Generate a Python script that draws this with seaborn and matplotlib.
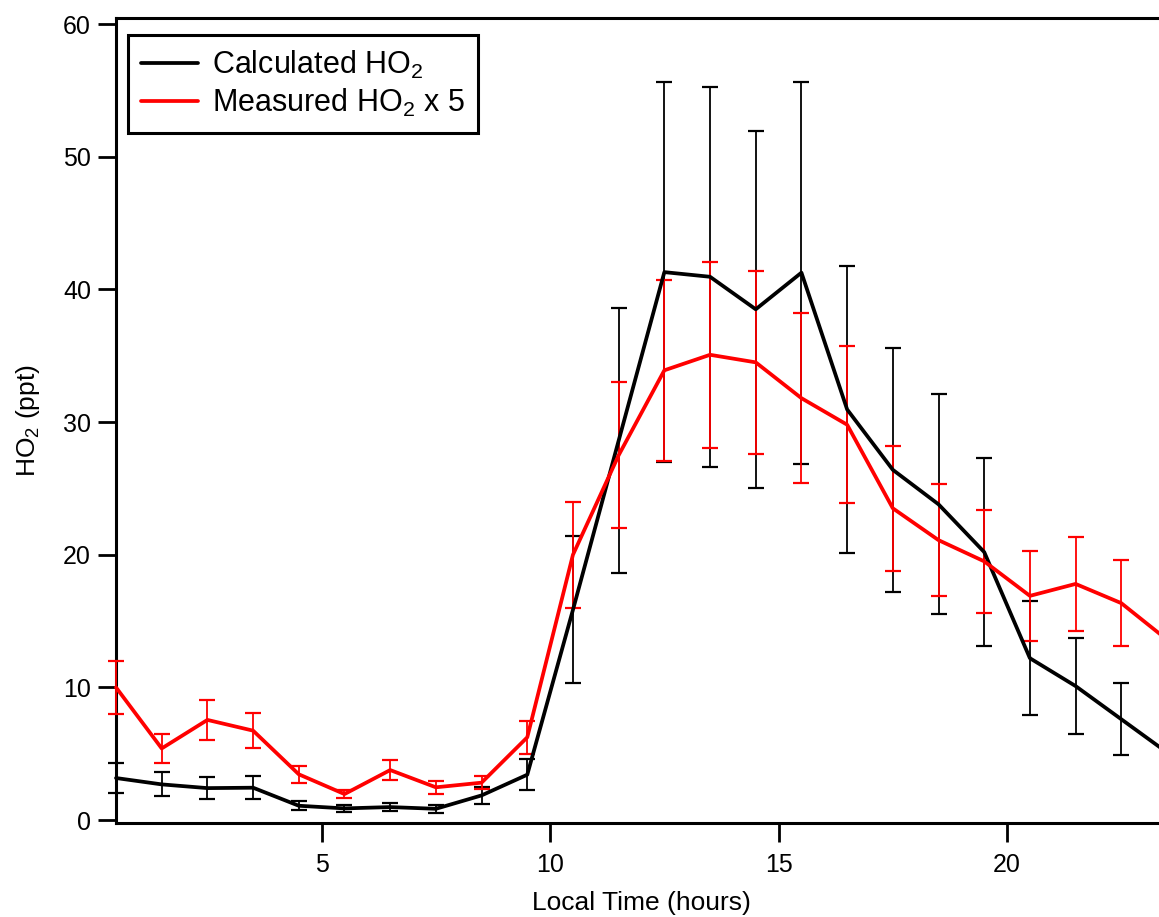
import matplotlib
matplotlib.use("Agg")
import matplotlib.pyplot as plt
import seaborn as sns
import pandas as pd

hours = [0.5, 1.5, 2.5, 3.5, 4.5, 5.5, 6.5, 7.5, 8.5, 9.5, 10.5, 11.5,
         12.5, 13.5, 14.5, 15.5, 16.5, 17.5, 18.5, 19.5, 20.5, 21.5, 22.5, 23.5]
calc_ho2 = [3.17, 2.69, 2.41, 2.44, 1.08, 0.88, 0.98, 0.85, 1.86, 3.42, 15.85, 28.6,
            41.3, 40.95, 38.5, 41.26, 30.95, 26.4, 23.8, 20.2, 12.2, 10.1, 7.6, 5.1]
calc_err = [1.1, 0.9, 0.84, 0.85, 0.34, 0.29, 0.31, 0.29, 0.63, 1.18, 5.55, 10.0,
            14.3, 14.3, 13.45, 14.4, 10.85, 9.2, 8.3, 7.1, 4.3, 3.6, 2.7, 1.77]
meas_ho2 = [10.0, 5.4, 7.55, 6.74, 3.45, 1.96, 3.77, 2.47, 2.82, 6.24, 20.0, 27.5,
            33.9, 35.07, 34.5, 31.8, 29.8, 23.5, 21.1, 19.5, 16.9, 17.8, 16.35, 13.6]
meas_err = [2.0, 1.1, 1.5, 1.3, 0.64, 0.3, 0.74, 0.5, 0.5, 1.25, 4.0, 5.5,
            6.8, 7.0, 6.9, 6.4, 5.9, 4.7, 4.2, 3.9, 3.4, 3.55, 3.25, 2.7]
x_ticks = [5, 10, 15, 20]
y_ticks = [0, 10, 20, 30, 40, 50, 60]

sns.set_theme(style="ticks")
plt.rcParams["font.family"] = ["Liberation Sans", "DejaVu Sans"]
plt.rcParams["mathtext.fontset"] = "custom"
plt.rcParams["mathtext.rm"] = "Liberation Sans"
plt.rcParams["mathtext.it"] = "Liberation Sans"
plt.rcParams["text.color"] = "black"
plt.rcParams["axes.labelcolor"] = "black"

fig = plt.figure(figsize=(11.59, 9.17), dpi=100)
ax = fig.add_axes([0.1001, 0.1028, 0.9068, 0.8775])

calc_label = r"Calculated HO$_2$"
meas_label = r"Measured HO$_2$ x 5"
df = pd.DataFrame({
    "hour": hours * 2,
    "value": calc_ho2 + meas_ho2,
    "series": [calc_label] * len(hours) + [meas_label] * len(hours),
})

ax.errorbar(hours, calc_ho2, yerr=calc_err, fmt="none", ecolor="black",
            elinewidth=1.3, capsize=6.1, capthick=1.6, clip_on=False, zorder=2)
ax.errorbar(hours, meas_ho2, yerr=meas_err, fmt="none", ecolor="#ff0000",
            elinewidth=1.3, capsize=6.1, capthick=1.6, clip_on=False, zorder=3)

sns.lineplot(data=df, x="hour", y="value", hue="series",
             palette={calc_label: "black", meas_label: "#ff0000"},
             linewidth=2.7, ax=ax, zorder=4, clip_on=False)

ax.set_xlim(0.5, 23.5)
ax.set_ylim(-0.2, 60.45)
ax.set_xticks(x_ticks)
ax.set_yticks(y_ticks)
ax.set_xlabel("Local Time (hours)", fontsize=19, labelpad=10, color="black")
ax.set_ylabel(r"HO$_2$ (ppt)", fontsize=19, labelpad=15, color="black")

for side in ["left", "bottom", "top", "right"]:
    ax.spines[side].set_linewidth(2.2)
    ax.spines[side].set_color("black")
ax.tick_params(axis="y", direction="out", length=13, width=2.0,
               labelsize=18, color="black", labelcolor="black", pad=5)
ax.tick_params(axis="x", direction="out", length=14, width=2.0,
               labelsize=18, color="black", labelcolor="black", pad=8)

leg = ax.legend(loc="upper left", bbox_to_anchor=(0.011, 0.979), fontsize=22,
                frameon=True, fancybox=False, edgecolor="black", framealpha=1,
                handlelength=1.85, handletextpad=0.45, borderpad=0.45,
                labelspacing=0.2, borderaxespad=0)
leg.get_frame().set_linewidth(2.2)
for t in leg.get_texts():
    t.set_color("black")

fig.savefig("out.png", dpi=100)
